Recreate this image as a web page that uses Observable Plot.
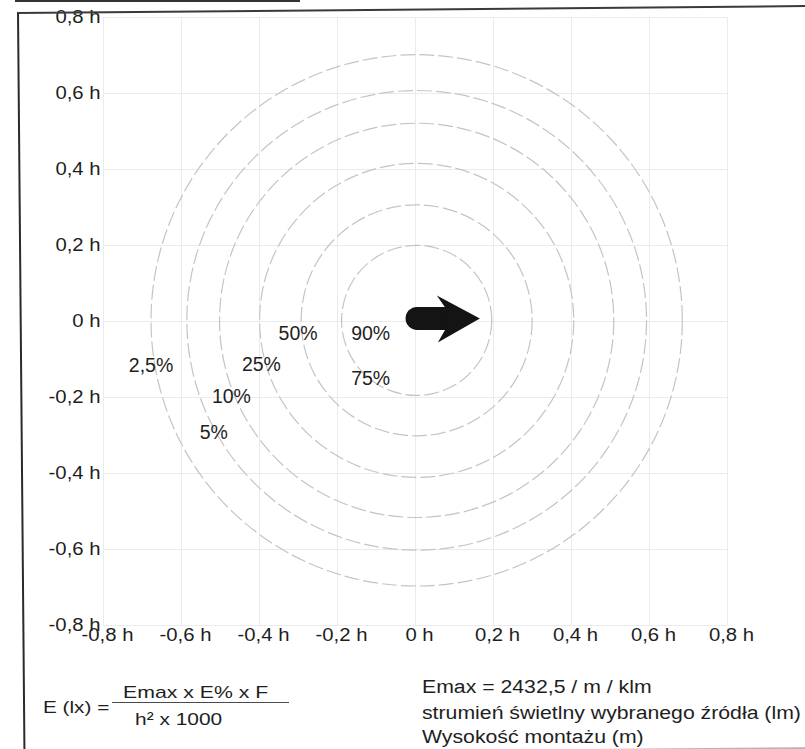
<!DOCTYPE html>
<html>
<head>
<meta charset="utf-8">
<script src="https://cdn.jsdelivr.net/npm/d3@7"></script>
<script src="https://cdn.jsdelivr.net/npm/@observablehq/plot@0.6"></script>
<style>
  html, body { margin: 0; padding: 0; background: #fff; }
  body { width: 805px; height: 749px; position: relative; overflow: hidden;
         font-family: "Liberation Sans", Arial, sans-serif; color: #1e1e1e; }
  #chart { position: absolute; left: 0; top: 0; }
  .cap { position: absolute; white-space: nowrap; transform-origin: 0 0; line-height: 1; }
  .f17 { font-size: 17px; }
  .f18 { font-size: 18px; transform: scaleX(1.18); }
  #fracline { position: absolute; left: 112px; top: 702px; width: 177px; height: 0;
              border-top: 1.3px solid #4a4a55; }
  #frame { position: absolute; left: 16.5px; top: 12px; width: 792px; height: 740px;
           border-left: 2px solid #2b2b2b; border-top: 2px solid #3a3a3a;
           border-right: 1px solid #d0d0d0; border-bottom: 2px solid #b5b5b5;
           transform: rotate(-0.5deg); transform-origin: 0 0; pointer-events: none; }
  #topbox { position: absolute; left: 15px; top: 0; width: 285px; height: 2px; background: #333; }
</style>
</head>
<body>
<div id="chart"></div>

<div class="cap f17" style="left:43px; top:698.6px; transform: scaleX(1.22);">E (lx) =</div>
<div class="cap f17" style="left:123px; top:684.1px; transform: scaleX(1.25);">Emax x E% x F</div>
<div id="fracline"></div>
<div class="cap f17" style="left:135px; top:710.6px; transform: scaleX(1.23);">h² x 1000</div>

<div class="cap f18" style="left:422px; top:677.8px;">Emax = 2432,5 / m / klm</div>
<div class="cap f18" style="left:422px; top:703.8px;">strumień świetlny wybranego źródła (lm)</div>
<div class="cap f18" style="left:422px; top:727.8px;">Wysokość montażu (m)</div>

<div id="topbox"></div>
<div id="frame"></div>

<script>
// ---- data ----
const xTicks = [-0.8, -0.6, -0.4, -0.2, 0, 0.2, 0.4, 0.6, 0.8];
const yTicks = [-0.8, -0.6, -0.4, -0.2, 0, 0.2, 0.4, 0.6, 0.8];

const isoLevels = ["75%", "50%", "25%", "10%", "5%", "2,5%"];
const isoRadii  = [0.195, 0.30, 0.408, 0.512, 0.597, 0.69];
const isoCenter = [0.003, 0.003];

const labelText = ["90%", "75%", "50%", "25%", "10%", "5%", "2,5%"];
const labelX    = [-0.115, -0.115, -0.301, -0.395, -0.472, -0.517, -0.678];
const labelY    = [-0.032, -0.150, -0.032, -0.113, -0.197, -0.292, -0.116];

const arrowShaft = [{x1: 0.004, x2: 0.08, y: 0.008}];
const arrowTip   = [{x: 0.165, y: 0.008}];

// ---- derived tables ----
const rings = isoLevels.map((level, i) => ({level, r: isoRadii[i], x: isoCenter[0], y: isoCenter[1]}));
const labels = labelText.map((t, i) => ({t, x: labelX[i], y: labelY[i]}));

const fmt = d => (Math.abs(d) < 1e-9 ? "0" : (d < 0 ? "-" : "") + Math.abs(d).toFixed(1).replace(".", ",")) + " h";

const arrowHead = {
  draw(ctx) {
    ctx.moveTo(0, 0);
    ctx.lineTo(-43, -23);
    ctx.lineTo(-34, -10);
    ctx.lineTo(-34, 10);
    ctx.lineTo(-42, 24);
    ctx.closePath();
  }
};

const chart = Plot.plot({
  width: 805,
  height: 660,
  marginLeft: 103,
  marginRight: 78,
  marginTop: 17,
  marginBottom: 35,
  style: {fontFamily: '"Liberation Sans", Arial, sans-serif', fontSize: "17.5px", color: "#1e1e1e", background: "transparent", overflow: "visible"},
  x: {domain: [-0.8, 0.8], label: null, axis: null},
  y: {domain: [-0.8, 0.8], label: null, axis: null},
  r: {type: "linear", domain: [0, 1], range: [0, 385]},
  marks: [
    Plot.gridX(xTicks, {stroke: "#ebebeb", strokeOpacity: 1}),
    Plot.gridY(yTicks, {stroke: "#ebebeb", strokeOpacity: 1}),
    Plot.dot(rings, {x: "x", y: "y", r: "r", fill: "none", stroke: "#c4c4c4", strokeWidth: 1.2, strokeDasharray: "15,4"}),
    Plot.link(arrowShaft, {x1: "x1", x2: "x2", y1: "y", y2: "y", stroke: "#141414", strokeWidth: 23, strokeLinecap: "round"}),
    Plot.dot(arrowTip, {x: "x", y: "y", symbol: arrowHead, fill: "#141414", stroke: "none"}),
    Plot.text(labels, {x: "x", y: "y", text: "t", fontSize: 19.5, fill: "#1e1e1e"}),
    Plot.text(xTicks, {x: d => d, frameAnchor: "bottom", lineAnchor: "top", dy: 3, dx: 4, text: fmt, fill: "#1e1e1e"}),
    Plot.text(yTicks, {y: d => d, frameAnchor: "left", textAnchor: "end", dx: -3, text: fmt, fill: "#1e1e1e"})
  ]
});

document.getElementById("chart").append(chart);

// widen the tick labels (last two text marks) horizontally to match the reference lettering
const SX = 1.16;
const textGroups = chart.querySelectorAll('g[aria-label="text"]');
[textGroups[textGroups.length - 2], textGroups[textGroups.length - 1]].forEach(g => {
  if (!g) return;
  g.querySelectorAll("text").forEach(t => {
    const xa = t.getAttribute("x");
    const xn = xa !== null && !isNaN(+xa) ? +xa : 0;
    const tr = t.getAttribute("transform") || "";
    t.setAttribute("transform", `${tr} translate(${xn},0) scale(${SX},1)`);
    if (xa !== null && !isNaN(+xa)) t.setAttribute("x", 0);
  });
});
</script>
</body>
</html>
